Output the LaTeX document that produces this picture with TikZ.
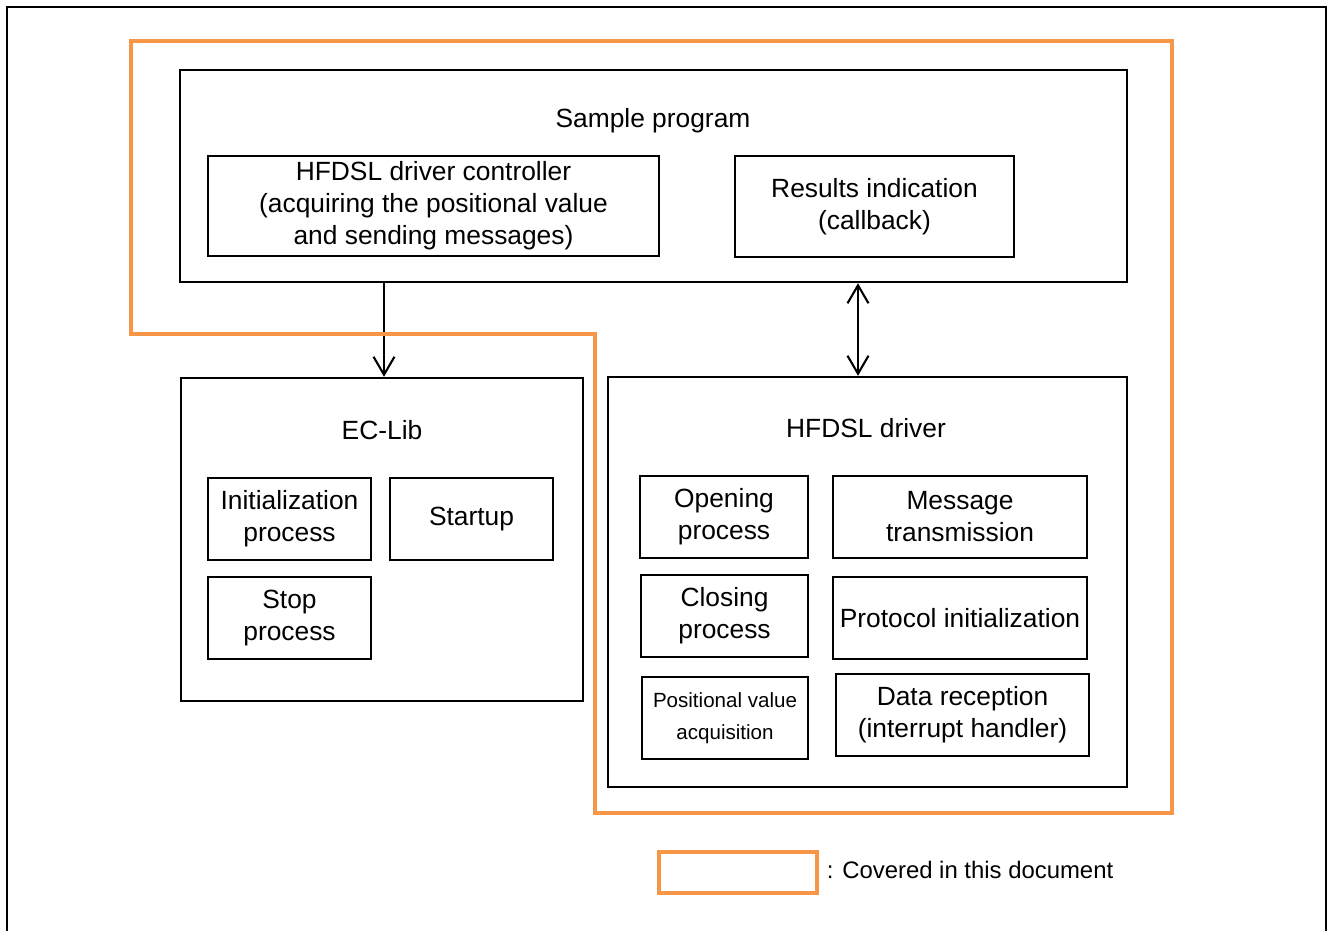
\documentclass[tikz,border=0pt]{standalone}
\usepackage{fontspec}
\setmainfont{Liberation Sans}
\usetikzlibrary{arrows.meta,positioning}
\definecolor{cover}{HTML}{F79646}

\begin{document}
\begin{tikzpicture}[x=0.02cm,y=-0.02cm,
        font=\fontsize{15}{18.2}\selectfont,
        block/.style={draw,line width=1.4pt,inner sep=0pt},
        sub/.style={block,align=center,minimum height=1.64cm},
        barb/.tip={Straight Barb[length=0.36cm,width=0.42cm,line width=1.2pt]},
        link/.style={line width=1.2pt,-barb}]
        \clip (0,0) rectangle (1328,930);
        \draw[line width=1.4pt] (7,960) -- (7,7) -- (1326,7) -- (1326,960);
        % sample program
        \node[block, minimum width=18.94cm, minimum height=4.24cm] (sample) at (653.5,176) {};
        \node (sample_t) at (653,121) {Sample program};
        \node[sub, minimum width=9.02cm, minimum height=2cm] (ctrl) at (433.5,206)
            {HFDSL driver controller\\(acquiring the positional value\\and sending messages)};
        \node[sub, minimum width=5.58cm, minimum height=2.02cm] (results) at (874.5,206.5)
            {Results indication\\(callback)};
        % EC-Lib
        \node[block, minimum width=8.04cm, minimum height=6.46cm] (eclib) at (382,539.5) {};
        \node (eclib_t) at (382,430) {EC-Lib};
        \node[sub, minimum width=3.26cm] (init) at (289.5,519) {Initialization\\process};
        \node[sub, minimum width=3.26cm] (startup) at (471.5,519) {Startup};
        \node[sub, minimum width=3.26cm] (stop) at (289.5,618) {Stop\\process};
        % HFDSL driver
        \node[block, minimum width=10.38cm, minimum height=8.2cm] (driver) at (867.5,582) {};
        \node (driver_t) at (866,428) {HFDSL driver};
        \node[sub, minimum width=3.36cm] (open) at (724,517) {Opening\\process};
        \node[sub, minimum width=5.08cm] (msg) at (960,517) {Message\\transmission};
        \node[sub, minimum width=3.34cm] (close) at (724.5,616) {Closing\\process};
        \node[sub, minimum width=5.08cm] (proto) at (960,618) {Protocol initialization};
        \node[sub, minimum width=3.32cm, font=\fontsize{11.7}{18.2}\selectfont] (pos) at (725,718)
            {Positional value\\acquisition};
        \node[sub, minimum width=5.06cm] (data) at (962.5,715) {Data reception\\(interrupt handler)};
        % connectors
        \draw[link] ([xshift=0.04cm]sample.south -| eclib.north) -- ([xshift=0.04cm]eclib.north);
        \draw[link,barb-barb]
            ([xshift=-0.19cm]sample.south -| driver.north) -- ([xshift=-0.19cm]driver.north);
        % covered area
        \draw[cover, line width=2.8pt] (131,41) -- (1172,41) -- (1172,813) -- (595,813)
            -- (595,334) -- (131,334) -- cycle;
        \node[draw=cover, line width=2.8pt, minimum width=3.16cm, minimum height=0.82cm] (legend) at (738,872.5) {};
        \node[right=0.14cm of legend, inner sep=0pt, yshift=0.06cm, font=\fontsize{13.6}{16}\selectfont]
            (legend_t) {: Covered in this document};
\end{tikzpicture}
\end{document}
